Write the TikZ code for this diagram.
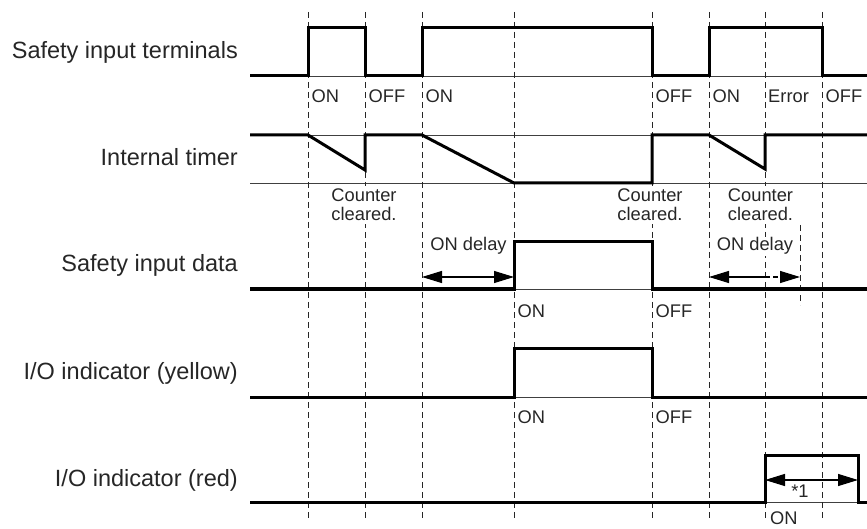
\documentclass[tikz,border=0pt]{standalone}
\usepackage{fontspec}
\setmainfont{Liberation Sans}
\usetikzlibrary{arrows.meta}
\begin{document}
\begin{tikzpicture}[x=1pt,y=-1pt,
  sig/.style={line width=3pt, line join=miter, line cap=butt},
  base/.style={line width=0.9pt, black!75},
  guide/.style={line width=0.9pt, dash pattern=on 6pt off 4pt, black!85},
  lbl/.style={font=\fontsize{23.5}{28}\selectfont, anchor=base east, inner sep=0pt, text=black!85},
  sm/.style={font=\fontsize{18.3}{19}\selectfont, inner sep=0pt, text=black!85},
  cover/.style={sm, fill=white, inner xsep=1pt, inner ysep=3pt, align=center},
  dim/.style={line width=1.2pt, {Triangle[length=20pt,width=12pt]}-{Triangle[length=20pt,width=12pt]}},
]
\useasboundingbox (0,0) rectangle (867,529);

% thin base lines
\draw[base] (250,76) -- (867,76);
\draw[base] (250,135) -- (867,135);
\draw[base] (250,183) -- (867,183);
\draw[base] (250,289) -- (867,289);
\draw[base] (250,397) -- (867,397);
\draw[base] (250,502) -- (867,502);

% dashed guides
\foreach \x in {308,365,422,514,652,709,765,822}
  \draw[guide] (\x,12) -- (\x,519);
\draw[guide] (800,225) -- (800,305);

% row labels
\node[lbl] (l1) at (238,59) {Safety input terminals};
\node[lbl] (l2) at (238,166) {Internal timer};
\node[lbl] (l3) at (238,272) {Safety input data};
\node[lbl] (l4) at (238,379) {I/O indicator (yellow)};
\node[lbl] (l5) at (238,486) {I/O indicator (red)};

% state labels, terminals
\node[sm, anchor=base west] (t1) at (311.5,103) {ON};
\node[sm, anchor=base west] (t2) at (368.5,103) {OFF};
\node[sm, anchor=base west] (t3) at (425.5,103) {ON};
\node[sm, anchor=base west] (t4) at (655.5,103) {OFF};
\node[sm, anchor=base west] (t5) at (712.5,103) {ON};
\node[sm, anchor=base west] (t6) at (768,103) {Error};
\node[sm, anchor=base west] (t7) at (825.5,103) {OFF};

% counter cleared
\node[cover, anchor=north] (c1) at (364,186) {Counter\\cleared.};
\node[cover, anchor=north] (c2) at (650,186) {Counter\\cleared.};
\node[cover, anchor=north] (c3) at (760.5,186) {Counter\\cleared.};

% ON delay
\node[sm, anchor=base] (d1) at (468.5,251) {ON delay};
\node[cover, anchor=base, inner ysep=1pt] (d2) at (755,251) {ON delay};

% data / indicator labels
\node[sm, anchor=base west] (s1) at (517.5,317) {ON};
\node[sm, anchor=base west] (s2) at (655.5,317) {OFF};
\node[sm, anchor=base west] (y1) at (517.5,423) {ON};
\node[sm, anchor=base west] (y2) at (655.5,423) {OFF};
\node[sm, anchor=base west] (r1) at (770,524) {ON};
\node[sm, anchor=base] (r2) at (800,497) {*1};

% signals
\draw[sig] (250,76) -- (308,76) -- (308,28) -- (365,28) -- (365,76) -- (422,76) -- (422,28)
  -- (652,28) -- (652,76) -- (709,76) -- (709,28) -- (822,28) -- (822,76) -- (867,76);
\draw[sig] (250,135) -- (308,135) -- (365,170) -- (365,135) -- (422,135) -- (514,183)
  -- (652,183) -- (652,135) -- (709,135) -- (765,169) -- (765,135) -- (867,135);
\draw[sig] (250,289) -- (514,289) -- (514,242) -- (652,242) -- (652,289) -- (867,289);
\draw[sig] (250,397) -- (514,397) -- (514,348) -- (652,348) -- (652,397) -- (867,397);
\draw[sig] (250,502) -- (765,502) -- (765,455) -- (858,455) -- (858,502) -- (867,502);

% dimension arrows
\coordinate (a1) at (422,277);
\coordinate (a2) at (514,277);
\draw[dim] (a1) -- (a2);
\coordinate (b1) at (709,277);
\coordinate (b2) at (765,277);
\coordinate (b3) at (800,277);
\draw[line width=1.2pt, {Triangle[length=20pt,width=12pt]}-] (b1) -- (b2);
\draw[line width=1.2pt, dash pattern=on 5pt off 3pt, -{Triangle[length=20pt,width=12pt]}] (b2) -- (b3);
\coordinate (e1) at (765,480);
\coordinate (e2) at (858,480);
\draw[dim] (e1) -- (e2);
\end{tikzpicture}
\end{document}
